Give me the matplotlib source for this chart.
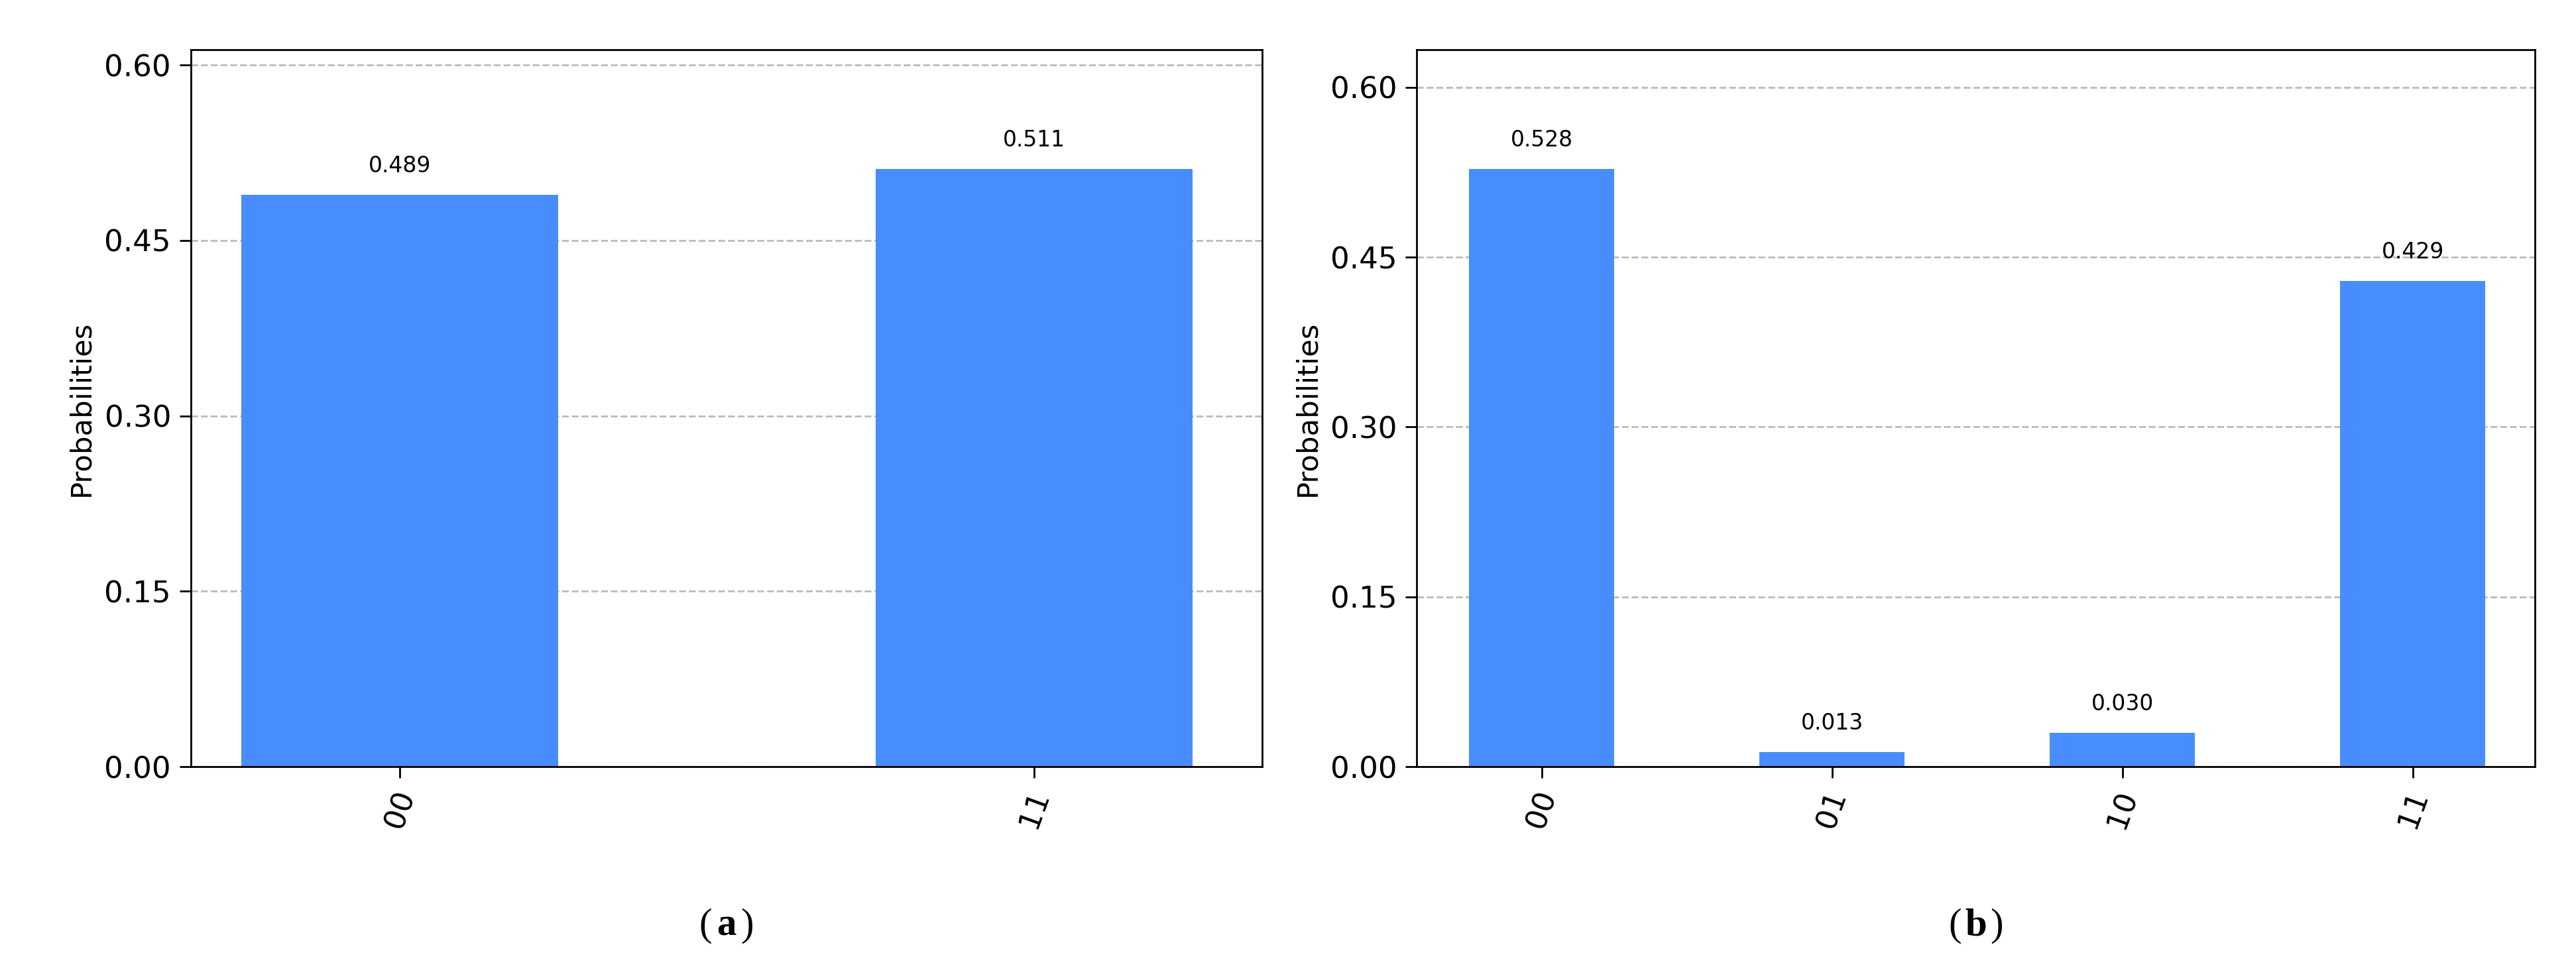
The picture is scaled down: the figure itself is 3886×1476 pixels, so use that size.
import matplotlib.pyplot as plt

# measured probabilities
states_a = ['00', '11']
probs_a = [0.489, 0.511]
states_b = ['00', '01', '10', '11']
probs_b = [0.528, 0.013, 0.030, 0.429]
captions = ['a', 'b']

BAR_COLOR = '#488dff'


def draw_hist(ax, states, probs, ymax, xlim):
    x = range(len(states))
    bars = ax.bar(x, probs, width=0.5, color=BAR_COLOR, zorder=2)
    for b, p in zip(bars, probs):
        ax.text(b.get_x() + b.get_width() / 2, p + ymax * 0.025, f'{p:.3f}',
                ha='center', va='bottom', fontsize=9.5)
    ax.set_xticks(list(x))
    ax.set_xticklabels(states, rotation=70, fontsize=13)
    ax.set_yticks([0, 0.15, 0.30, 0.45, 0.60])
    ax.set_yticklabels(['0.00', '0.15', '0.30', '0.45', '0.60'], fontsize=13)
    ax.set_ylim(0, ymax)
    ax.set_xlim(*xlim)
    ax.set_ylabel('Probabilities', fontsize=12.5)
    ax.yaxis.grid(True, linestyle='--', color='#bbbbbb', zorder=0)
    ax.tick_params(length=5)


fig = plt.figure(figsize=(15.544, 5.904), dpi=250)
ax1 = fig.add_axes([0.074, 0.216, 0.416, 0.733])
ax2 = fig.add_axes([0.550, 0.216, 0.434, 0.733])

draw_hist(ax1, states_a, probs_a, 0.613, (-0.33, 1.36))
draw_hist(ax2, states_b, probs_b, 0.633, (-0.43, 3.42))

for ax, c in zip([ax1, ax2], captions):
    pos = ax.get_position()
    xc = (pos.x0 + pos.x1) / 2
    fig.text(xc - 0.0055, 0.035, '(', fontsize=17, ha='right', va='bottom', family='Liberation Serif')
    fig.text(xc, 0.035, c, fontsize=17, ha='center', va='bottom', weight='bold', family='Liberation Serif')
    fig.text(xc + 0.0055, 0.035, ')', fontsize=17, ha='left', va='bottom', family='Liberation Serif')

fig.savefig('out.png', dpi=250)
